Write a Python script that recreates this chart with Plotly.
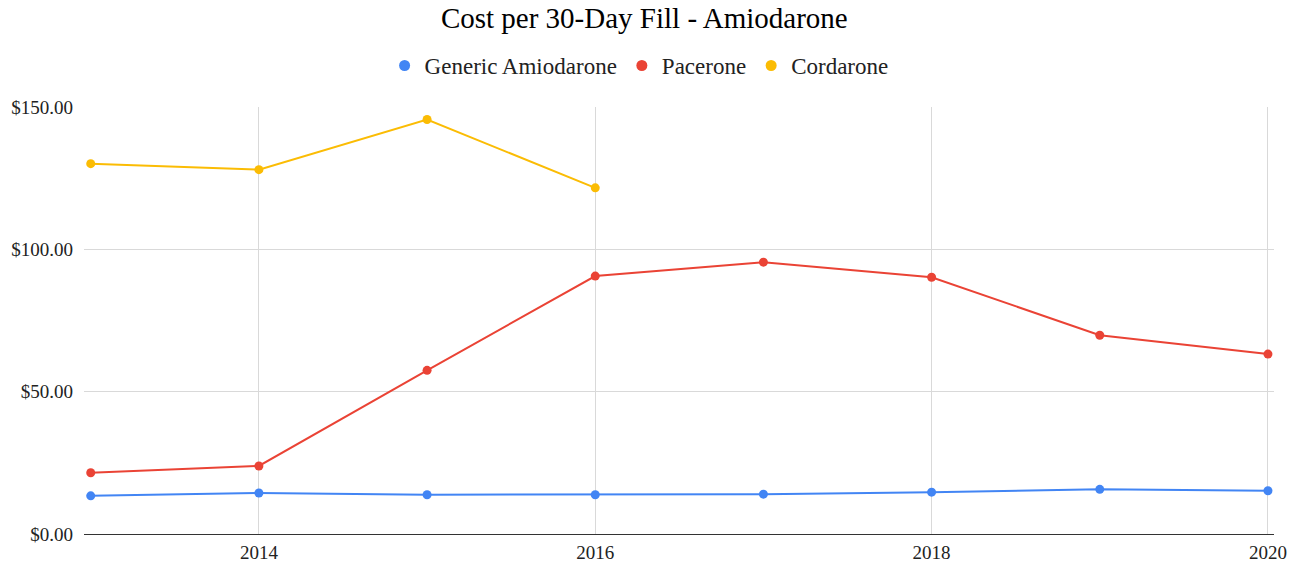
import plotly.graph_objects as go

years = [2013, 2014, 2015, 2016, 2017, 2018, 2019, 2020]
generic = [13.4, 14.4, 13.8, 13.8, 14.0, 14.7, 15.7, 15.2]
pacerone = [21.5, 23.9, 57.5, 90.6, 95.5, 90.2, 69.8, 63.2]
cordarone_years = [2013, 2014, 2015, 2016]
cordarone = [130.1, 128.0, 145.6, 121.6]

names = ["Generic Amiodarone", "Pacerone", "Cordarone"]
colors = ["#4285F4", "#EA4335", "#FBBC04"]
xs = [years, years, cordarone_years]
ys = [generic, pacerone, cordarone]

fig = go.Figure()
for n, c, x, y in zip(names, colors, xs, ys):
    fig.add_trace(go.Scatter(x=x, y=y, mode="lines+markers", name=n,
                             line=dict(color=c, width=2), marker=dict(color=c, size=9),
                             showlegend=False, legendgroup=n))
for n, c in zip(names, colors):
    fig.add_trace(go.Scatter(x=[None], y=[None], mode="markers", name=n,
                             marker=dict(color=c, size=11), legendgroup=n))

fig.update_layout(
    width=1299, height=565,
    margin=dict(l=84, r=25, t=107, b=31),
    paper_bgcolor="white", plot_bgcolor="white",
    font=dict(family="Liberation Serif", size=19, color="#222"),
    title=dict(text="Cost per 30-Day Fill - Amiodarone", x=0.496, xref="container",
               y=0.968, yref="container", xanchor="center", yanchor="middle",
               font=dict(size=29, color="#000")),
    legend=dict(orientation="h", x=0.492, xref="container", xanchor="center",
                y=0.884, yref="container", yanchor="middle",
                font=dict(size=23, color="#222"), itemwidth=30, tracegroupgap=0),
    xaxis=dict(range=[2012.96, 2020.036], tickmode="linear", tick0=2014, dtick=2,
               showgrid=True, gridcolor="#d9d9d9", gridwidth=1, zeroline=False,
               showline=False, ticks="", automargin=False, ticklabelstandoff=5,
               tickfont=dict(size=19, color="#222")),
    yaxis=dict(range=[0, 150], tickmode="array", tickvals=[0, 50, 100, 150],
               ticktext=["$0.00", "$50.00", "$100.00", "$150.00"],
               showgrid=True, gridcolor="#d9d9d9", gridwidth=1,
               zeroline=True, zerolinecolor="#333", zerolinewidth=1,
               showline=False, ticks="", ticklabelstandoff=10, automargin=False,
               tickfont=dict(size=19, color="#222")),
)
fig.write_html("out.html")
